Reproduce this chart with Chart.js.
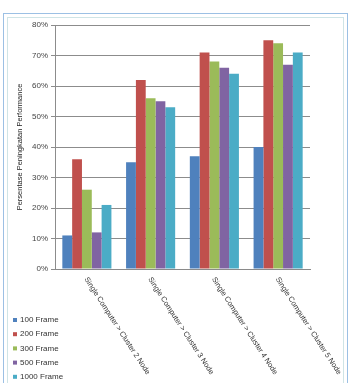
<!DOCTYPE html>
<html>
<head>
<meta charset="utf-8">
<script src="https://cdn.jsdelivr.net/npm/chart.js@4"></script>
<style>
  html, body { margin: 0; padding: 0; background: #fff; }
  #wrap { position: relative; width: 353px; height: 383px; overflow: hidden; }
  #frameOuter { position: absolute; left: 3px; top: 13px; width: 345px; height: 372px; border: 1px solid #9cc0e4; border-bottom: none; box-sizing: border-box; }
  #frameInner { position: absolute; left: 7px; top: 17px; width: 337px; height: 368px; border: 1px solid #cfe4e6; border-bottom: none; box-sizing: border-box; }
  canvas { position: absolute; left: 0; top: 0; }
</style>
</head>
<body>
<div id="wrap">
  <div id="frameOuter"></div>
  <div id="frameInner"></div>
  <canvas id="c" width="353" height="383"></canvas>
</div>
<script>
const categories = [
  "Single Computer > Cluster 2 Node",
  "Single Computer > Cluster 3 Node",
  "Single Computer > Cluster 4 Node",
  "Single Computer > Cluster 5 Node"
];
const seriesNames = ["100 Frame", "200 Frame", "300 Frame", "500 Frame", "1000 Frame"];
const frame100  = [11, 35, 37, 40];
const frame200  = [36, 62, 71, 75];
const frame300  = [26, 56, 68, 74];
const frame500  = [12, 55, 66, 67];
const frame1000 = [21, 53, 64, 71];
const yTicks = [0, 10, 20, 30, 40, 50, 60, 70, 80];
const yTitle = "Persentase Peningkatan Performance";

const colors = ["#4F81BD", "#C0504D", "#9BBB59", "#8064A2", "#4BACC6"];
const seriesData = [frame100, frame200, frame300, frame500, frame1000];
const FONT = "'Liberation Sans', Arial, sans-serif";

const customDraw = {
  id: 'customDraw',
  afterDraw(chart) {
    const ctx = chart.ctx;
    const xs = chart.scales.x;
    const bottom = chart.chartArea.bottom;
    ctx.save();
    ctx.fillStyle = '#333';
    ctx.font = '7.5px ' + FONT;
    ctx.textAlign = 'left';
    ctx.textBaseline = 'middle';
    const ang = 57 * Math.PI / 180;
    categories.forEach((lab, i) => {
      const x = xs.getPixelForValue(i);
      ctx.save();
      ctx.translate(x - 1, bottom + 9);
      ctx.rotate(ang);
      ctx.fillText(lab, 0, 0);
      ctx.restore();
    });
    // legend
    chart.data.datasets.forEach((ds, i) => {
      const cy = 320 + i * 14.2;
      ctx.fillStyle = ds.backgroundColor;
      ctx.fillRect(13, cy - 2, 4, 4);
      ctx.fillStyle = '#333';
      ctx.font = '8px ' + FONT;
      ctx.fillText(ds.label, 20, cy);
    });
    ctx.restore();
  }
};

new Chart(document.getElementById('c'), {
  type: 'bar',
  data: {
    labels: categories,
    datasets: seriesNames.map((n, i) => ({
      label: n,
      data: seriesData[i],
      backgroundColor: colors[i],
      borderWidth: 0,
      categoryPercentage: 0.77,
      barPercentage: 1.0
    }))
  },
  options: {
    responsive: false,
    animation: false,
    devicePixelRatio: 1,
    layout: { padding: { left: 15, top: 25, right: 43, bottom: 0 } },
    plugins: { legend: { display: false }, tooltip: { enabled: false } },
    scales: {
      x: {
        grid: { display: false },
        border: { display: true, color: '#8a8a8a' },
        ticks: { display: false },
        afterFit(s) { s.height = 114; }
      },
      y: {
        min: 0, max: 80,
        afterBuildTicks(s) { s.ticks = yTicks.map(v => ({ value: v })); },
        afterFit(s) { s.width = 40; },
        grid: { color: '#8c8c8c', lineWidth: 1, tickLength: 4 },
        border: { display: true, color: '#8c8c8c' },
        ticks: {
          padding: 3,
          color: '#444',
          font: { family: FONT, size: 8 },
          callback: v => v + '%'
        },
        title: {
          display: true,
          text: yTitle,
          color: '#222',
          padding: 0,
          font: { family: FONT, size: 7.5 }
        }
      }
    }
  },
  plugins: [customDraw]
});
</script>
</body>
</html>
